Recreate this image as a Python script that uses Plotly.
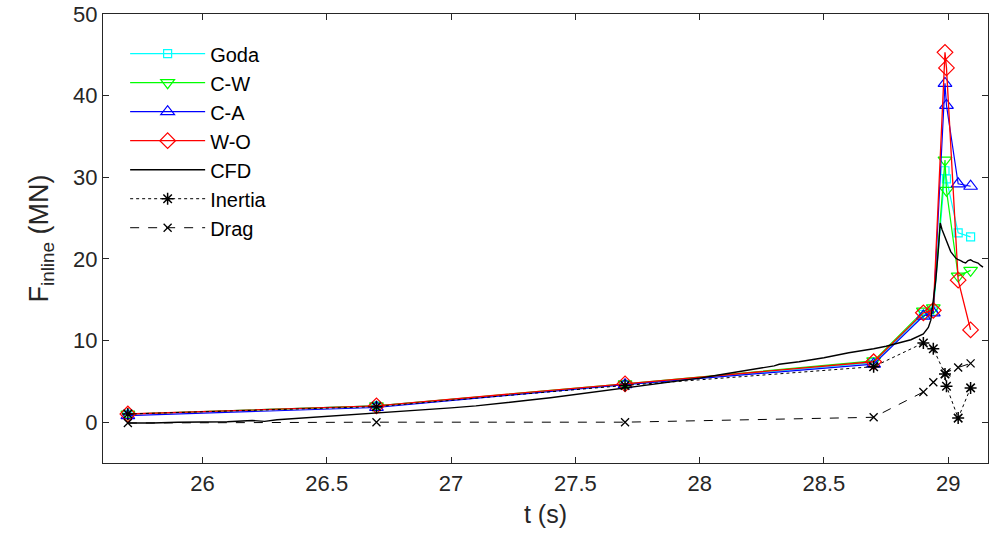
import plotly.graph_objects as go

# Model evaluation times (s)
t_pts = [25.7, 26.7, 27.7, 28.7, 28.90, 28.94, 28.987, 28.993, 29.04, 29.09]

goda = [1.0, 2.0, 4.6, 7.3, 13.2, 13.6, 30.8, 29.8, 23.2, 22.7]
cw = [1.0, 2.0, 4.7, 7.5, 13.6, 14.0, 32.1, 28.4, 17.9, 18.6]
ca = [0.8, 1.8, 4.6, 7.1, 13.0, 13.4, 41.5, 38.8, 29.2, 28.9]
wo = [1.0, 2.0, 4.7, 7.4, 13.4, 13.7, 45.3, 43.4, 17.4, 11.3]
inertia = [1.0, 1.9, 4.5, 6.8, 9.7, 9.0, 5.9, 4.4, 0.5, 4.2]
drag = [-0.1, 0.0, 0.0, 0.6, 3.7, 4.9, 5.9, 6.1, 6.7, 7.2]

# CFD time series
t_cfd = [25.70, 25.80, 25.90, 26.00, 26.10, 26.20, 26.25, 26.30, 26.40, 26.50,
         26.60, 26.70, 26.80, 26.90, 27.00, 27.10, 27.20, 27.30, 27.40, 27.50,
         27.60, 27.70, 27.80, 27.90, 28.00, 28.10, 28.20, 28.30, 28.32, 28.40,
         28.50, 28.60, 28.70, 28.75, 28.80, 28.85, 28.90, 28.92, 28.93, 28.94,
         28.95, 28.96, 28.965, 28.968, 28.975, 28.98, 28.99, 29.00, 29.01, 29.02,
         29.03, 29.04, 29.05, 29.06, 29.07, 29.08, 29.09, 29.10, 29.11, 29.12,
         29.13, 29.14]
f_cfd = [-0.1, -0.1, 0.0, 0.0, 0.05, 0.2, 0.1, 0.3, 0.5, 0.7,
         0.9, 1.1, 1.3, 1.5, 1.75, 2.0, 2.3, 2.65, 3.0, 3.4,
         3.8, 4.2, 4.6, 5.0, 5.4, 5.9, 6.4, 6.9, 7.1, 7.4,
         7.9, 8.5, 9.0, 9.3, 9.7, 10.1, 10.8, 11.6, 12.5, 14.8,
         17.4, 21.0, 23.8, 24.4, 23.6, 23.2, 22.3, 21.5, 20.9, 20.5,
         20.1, 19.9, 19.8, 19.6, 19.5, 19.8, 19.9, 19.7, 19.6, 19.5,
         19.2, 19.0]

FONT = "Liberation Sans, Arial, sans-serif"
AXC = "#262626"

fig = go.Figure()
fig.add_trace(go.Scatter(x=t_pts, y=goda, name="Goda", mode="lines+markers",
                         line=dict(color="#00FFFF", width=1.2),
                         marker=dict(symbol="square-open", size=8, color="#00FFFF", line=dict(width=1.2))))
fig.add_trace(go.Scatter(x=t_pts, y=cw, name="C-W", mode="lines+markers",
                         line=dict(color="#00FF00", width=1.2),
                         marker=dict(symbol="triangle-down-open", size=12, color="#00FF00", line=dict(width=1.2))))
fig.add_trace(go.Scatter(x=t_pts, y=ca, name="C-A", mode="lines+markers",
                         line=dict(color="#0000FF", width=1.2),
                         marker=dict(symbol="triangle-up-open", size=12, color="#0000FF", line=dict(width=1.2))))
fig.add_trace(go.Scatter(x=t_pts, y=wo, name="W-O", mode="lines+markers",
                         line=dict(color="#FF0000", width=1.3),
                         marker=dict(symbol="diamond-open", size=12, color="#FF0000", line=dict(width=1.2))))
fig.add_trace(go.Scatter(x=t_cfd, y=f_cfd, name="CFD", mode="lines",
                         line=dict(color="black", width=1.4)))
fig.add_trace(go.Scatter(x=t_pts, y=inertia, name="Inertia", mode="lines+markers",
                         line=dict(color="black", width=1, dash="dot"),
                         marker=dict(symbol="asterisk-open", size=10, color="black", line=dict(width=1.5, color="black"))))
fig.add_trace(go.Scatter(x=t_pts, y=drag, name="Drag", mode="lines+markers",
                         line=dict(color="black", width=1, dash="dash"),
                         marker=dict(symbol="x-thin-open", size=8, color="black", line=dict(width=1.3, color="black"))))

axis_common = dict(showline=True, linecolor=AXC, linewidth=1.3, mirror="ticks",
                   ticks="inside", ticklen=6, tickcolor=AXC, tickwidth=1.2,
                   showgrid=False, zeroline=False,
                   tickfont=dict(family=FONT, size=22, color=AXC))

fig.update_xaxes(range=[25.6, 29.16], tick0=26, dtick=0.5,
                 title=dict(text="t (s)", font=dict(family=FONT, size=25, color=AXC), standoff=10),
                 **axis_common)
fig.update_yaxes(range=[-5, 50], tick0=0, dtick=10,
                 title=dict(text="F<sub>inline</sub> (MN)", font=dict(family=FONT, size=27, color=AXC), standoff=16),
                 **axis_common)

fig.update_layout(
    width=990, height=550,
    margin=dict(l=103, r=2, t=14, b=87),
    paper_bgcolor="white", plot_bgcolor="white",
    showlegend=True,
    legend=dict(x=0.025, y=0.955, xanchor="left", yanchor="top",
                bgcolor="rgba(255,255,255,0)", borderwidth=0,
                font=dict(family=FONT, size=20, color="black"),
                itemwidth=75, tracegroupgap=0),
)

fig.write_html("out.html")
